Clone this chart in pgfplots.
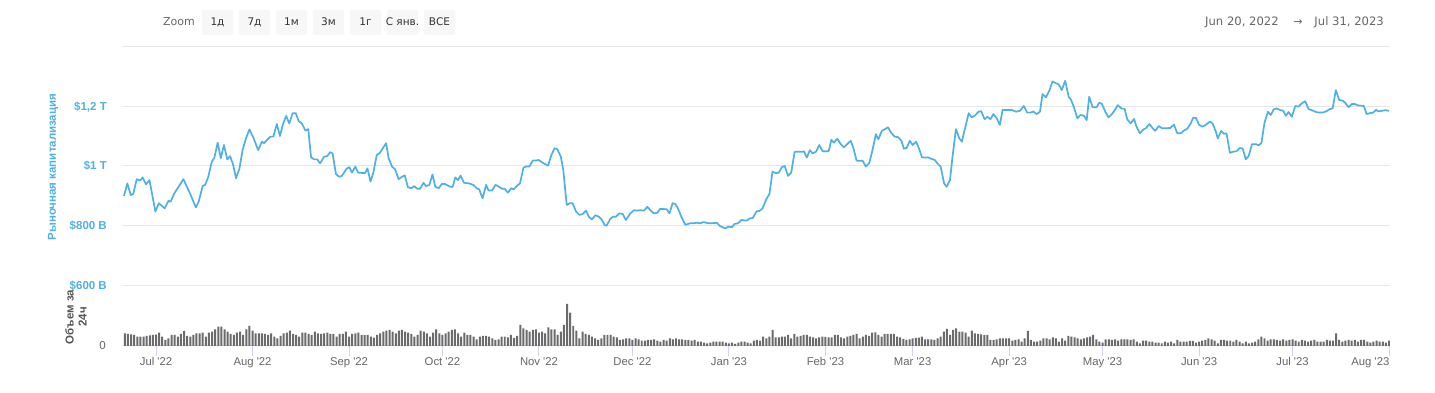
\documentclass[border=0pt]{standalone}
\usepackage{fontspec}
\setmainfont{Liberation Sans}
\newfontfamily\dvs{DejaVu Sans}
\usepackage{pgfplots}
\pgfplotsset{compat=1.18}
\definecolor{mcblue}{HTML}{4FB0E6}
\definecolor{volgray}{HTML}{6B6B6B}
\definecolor{gridc}{HTML}{E6E6E6}
\definecolor{tickc}{HTML}{CCD6EB}
\definecolor{labc}{HTML}{666666}
\definecolor{btnc}{HTML}{F7F7F7}
\definecolor{txtc}{HTML}{333333}
\definecolor{vlab}{HTML}{555555}
\begin{document}
\begin{tikzpicture}[x=1pt,y=1pt]
\fill[white] (0pt,0pt) rectangle (1435pt,393pt);
% ---------- market cap ----------
\begin{axis}[
  at={(123pt,107pt)}, anchor=south west, scale only axis,
  width=1267pt, height=240pt,
  xmin=-10.6, xmax=396.3, ymin=600, ymax=1400,
  axis line style={draw=none},
  xtick=\empty,
  ytick={600,800,1000,1200,1400},
  yticklabels={\$600 B,\$800 B,\$1 T,{\$1,2 T},{}},
  major tick length=0pt,
  ymajorgrids, grid style={gridc, line width=1pt},
  yticklabel style={font=\bfseries\fontsize{11.5}{13}\selectfont, text=mcblue, anchor=base east, inner sep=0pt, xshift=-16pt, yshift=-4pt},
  clip=false,
]
\addplot[mcblue, line width=1.7pt, line join=round] coordinates {
(-10.3,900)(-9.2,942)(-8.1,903)(-7.3,907)(-6.2,956)(-5.1,951)(-4.3,962)(-3.2,939)(-2.1,953)(-1.1,898)(-0.2,848)(0.9,876)(2.8,859)(4.0,884)(4.7,881)(5.9,909)(8.8,956)(10.9,909)(12.8,862)(13.7,881)(15.0,934)(15.8,937)(16.8,964)(17.9,1014)(18.7,1026)(19.8,1078)(20.8,1026)(21.8,1070)(22.9,1022)(23.8,1033)(24.8,1003)(25.7,959)(26.8,992)(27.8,1053)(28.9,1092)(30.0,1122)(31.3,1094)(32.8,1053)(34.0,1081)(34.7,1076)(36.1,1092)(36.8,1098)(37.7,1098)(38.8,1140)(39.8,1100)(40.7,1137)(41.8,1167)(42.8,1142)(43.9,1176)(44.9,1176)(45.8,1150)(46.8,1142)(48.0,1118)(48.9,1123)(49.8,1029)(50.8,1022)(51.8,1022)(52.7,1009)(54.0,1031)(55.0,1033)(55.9,1046)(56.7,1042)(57.8,973)(58.9,964)(59.7,967)(61.2,991)(62.1,996)(62.9,978)(64.0,998)(64.9,978)(67.1,976)(67.9,992)(68.9,948)(69.8,978)(70.9,1037)(71.9,1044)(73.9,1076)(74.7,1026)(75.8,998)(76.8,989)(77.9,956)(79.0,964)(79.9,969)(80.9,929)(82.0,926)(82.9,933)(83.9,924)(84.8,924)(85.9,944)(86.7,933)(87.8,937)(88.8,972)(89.7,931)(90.8,926)(91.8,940)(92.8,940)(94.4,931)(95.3,931)(96.1,962)(97.0,953)(97.8,968)(98.9,944)(100.6,942)(101.9,937)(103.0,926)(103.8,922)(104.9,892)(106.0,937)(106.8,918)(107.9,918)(109.0,937)(109.8,933)(111.1,924)(112.0,924)(113.0,911)(114.1,926)(114.8,922)(115.8,933)(116.9,942)(118.0,994)(118.8,998)(119.9,998)(121.0,1018)(122.0,1018)(122.9,1020)(124.0,1012)(125.0,1006)(125.9,1001)(127.0,1037)(128.0,1059)(128.9,1056)(130.0,1031)
(130.8,987)(131.9,870)(133.0,876)(133.8,876)(134.9,848)(136.0,837)(137.0,840)(138.1,851)(139.0,831)(140.0,822)(141.1,836)(142.2,831)(143.1,822)(144.1,803)(144.7,801)(145.8,822)(146.7,831)(147.7,831)(148.8,842)(149.9,840)(150.9,820)(152.2,840)(153.5,853)(154.6,851)(155.4,853)(156.7,851)(157.8,864)(158.9,851)(159.9,842)(161.0,844)(161.9,857)(164.0,856)(164.9,842)(165.9,876)(166.8,873)(167.6,859)(168.7,831)(170.0,804)(171.5,809)(172.6,809)(173.6,811)(174.7,809)(175.8,813)(177.5,809)(178.6,809)(180.1,811)(181.1,800)(182.8,792)(183.9,798)(185.0,796)(185.8,807)(186.9,809)(188.0,820)(189.7,818)(190.8,826)(191.6,826)(192.9,849)(193.8,850)(194.8,859)(195.9,887)(197.0,907)(198.0,981)(199.1,976)(200.0,978)(201.0,996)(201.9,1000)(203.0,967)(204.0,978)(205.1,1047)(206.4,1048)(207.5,1047)(208.1,1049)(209.0,1028)(210.0,1053)(210.9,1042)(212.0,1048)(213.0,1070)(214.1,1049)(216.0,1049)(216.9,1087)(217.7,1078)(218.8,1091)(219.9,1073)(220.9,1062)(222.0,1073)(223.1,1084)(223.9,1062)(225.0,1018)(226.1,1017)(226.9,1018)(228.0,998)(229.1,1011)(230.1,1053)(231.2,1106)(232.0,1089)(233.1,1117)(234.1,1123)(235.1,1129)(236.1,1111)(237.2,1098)(238.3,1096)(239.4,1084)(240.2,1057)(241.1,1061)(242.1,1084)(243.0,1070)(244.1,1081)(244.9,1062)(246.0,1029)(246.8,1028)(247.9,1029)(249.0,1024)(250.1,1020)(251.1,1007)(252.0,998)(253.1,942)(253.9,931)(255.0,953)(255.8,1031)(256.9,1123)(258.0,1092)(258.8,1081)(259.7,1120)(261.0,1176)(262.0,1162)(263.1,1169)(264.2,1181)(265.0,1183)(266.1,1156)(267.0,1164)(268.0,1156)(268.9,1173)(270.0,1159)(271.0,1137)
(271.9,1187)(273.2,1187)(274.8,1187)(276.2,1181)(277.5,1184)(278.7,1200)(279.8,1178)(280.9,1178)(281.7,1182)(282.8,1173)(283.9,1181)(284.7,1240)(285.8,1229)(286.9,1251)(287.9,1282)(289.0,1276)(289.9,1272)(290.9,1253)(292.0,1284)(293.1,1231)(293.9,1220)(294.8,1196)(295.9,1159)(296.9,1170)(298.0,1168)(298.9,1153)(299.7,1231)(300.8,1196)(302.1,1196)(302.9,1211)(303.8,1207)(304.9,1180)(305.9,1162)(307.0,1173)(308.1,1189)(308.9,1203)(310.0,1192)(311.1,1190)(311.9,1156)(313.0,1142)(314.1,1157)(314.9,1131)(316.0,1109)(317.1,1122)(317.9,1126)(319.0,1140)(320.1,1126)(320.9,1117)(322.0,1133)(323.1,1126)(324.6,1126)(325.8,1127)(326.9,1138)(328.0,1109)(329.1,1109)(330.1,1118)(331.2,1124)(332.3,1142)(333.1,1161)(334.0,1160)(335.0,1137)(336.1,1131)(337.2,1138)(338.5,1148)(339.3,1142)(340.4,1114)(341.0,1092)(342.1,1117)(343.0,1107)(343.8,1109)(344.9,1044)(346.0,1048)(347.0,1049)(348.1,1060)(349.0,1058)(350.0,1022)(350.9,1033)(352.0,1073)(353.2,1073)(354.1,1069)(355.0,1076)(356.0,1144)(357.1,1181)(358.0,1170)(359.0,1189)(359.9,1192)(360.9,1187)(362.0,1184)(362.9,1167)(363.7,1180)(364.8,1164)(365.9,1200)(366.9,1198)(368.0,1209)(369.1,1216)(370.2,1189)(371.0,1187)(372.1,1182)(372.9,1179)(374.0,1178)(375.1,1179)(376.1,1184)(377.0,1190)(377.9,1192)(378.9,1253)(380.0,1220)(381.1,1218)(381.9,1211)(383.0,1196)(384.1,1207)(384.9,1207)(386.0,1202)(387.1,1201)(387.9,1200)(388.8,1173)(389.8,1176)(390.9,1178)(391.8,1187)(392.6,1182)(393.7,1184)(394.8,1186)(396.0,1184)
};
\end{axis}
% ---------- volume ----------
\begin{axis}[
  at={(123pt,47pt)}, anchor=south west, scale only axis,
  width=1267pt, height=60pt,
  xmin=-10.6, xmax=396.3, ymin=0, ymax=300,
  axis x line=bottom, axis y line=none,
  x axis line style={-, tickc, line width=1pt},
  xtick={0,31,62,92,123,153,184,215,243,274,304,335,365},
  xticklabels={Jul \textquotesingle22,Aug \textquotesingle22,Sep \textquotesingle22,Oct \textquotesingle22,Nov \textquotesingle22,Dec \textquotesingle22,Jan \textquotesingle23,Feb \textquotesingle23,Mar \textquotesingle23,Apr \textquotesingle23,May \textquotesingle23,Jun \textquotesingle23,Jul \textquotesingle23},
  extra x ticks={396},
  extra x tick labels={Aug \textquotesingle23},
  extra x tick style={xticklabel style={anchor=base east, xshift=0.5pt}},
  tick align=outside, major tick length=10pt,
  xtick style={tickc, line width=1pt},
  xticklabel style={font=\fontsize{11.3}{13}\selectfont, text=labc, anchor=base, inner sep=0pt, yshift=-10pt},
  ytick=\empty,
  clip=true,
]
\addplot[ybar, bar width=0.64, fill=volgray, draw=none] coordinates {
(-11,72)(-10,63)(-9,60)(-8,58)(-7,55)(-6,47)(-5,47)(-4,47)(-3,50)(-2,53)(-1,55)(0,57)
(1,67)(2,47)(3,30)(4,38)(5,55)(6,55)(7,47)(8,60)(9,75)(10,50)
(11,47)(12,55)(13,63)(14,63)(15,67)(16,47)(17,67)(18,72)(19,83)(20,97)
(21,97)(22,83)(23,72)(24,60)(25,55)(26,67)(27,72)(28,55)(29,83)(30,100)
(31,77)(32,63)(33,63)(34,63)(35,60)(36,55)(37,63)(38,47)(39,38)(40,50)
(41,63)(42,67)(43,77)(44,60)(45,55)(46,47)(47,67)(48,67)(49,60)(50,55)
(51,72)(52,63)(53,60)(54,63)(55,67)(56,60)(57,60)(58,47)(59,60)(60,60)
(61,72)(62,47)(63,60)(64,63)(65,67)(66,55)(67,55)(68,55)(69,47)(70,42)
(71,55)(72,63)(73,72)(74,77)(75,80)(76,72)(77,63)(78,77)(79,80)(80,72)
(81,67)(82,60)(83,47)(84,55)(85,77)(86,72)(87,63)(88,47)(89,67)(90,83)
(91,63)(92,55)(93,63)(94,72)(95,80)(96,83)(97,63)(98,47)(99,67)(100,55)
(101,55)(102,47)(103,33)(104,47)(105,50)(106,50)(107,47)(108,38)(109,30)(110,33)
(111,47)(112,47)(113,43)(114,55)(115,40)(116,50)
(117,105)(118,88)(119,80)(120,72)(121,80)(122,83)(123,67)(124,72)
(125,63)(126,93)(127,83)(128,83)(129,55)(130,72)(131,105)(132,210)(133,167)
(134,100)(135,77)(136,38)(137,72)(138,60)(139,55)(140,47)(141,38)(142,30)(143,38)
(144,55)(145,55)(146,55)(147,47)(148,43)(149,30)(150,33)(151,38)(152,38)(153,30)
(154,38)(155,33)(156,27)(157,27)(158,30)(159,30)(160,33)(161,27)(162,22)(163,30)
(164,27)(165,38)(166,33)(167,38)(168,33)(169,33)(170,30)(171,30)(172,27)(173,30)
(174,22)(175,22)(176,17)(177,13)(178,17)(179,22)(180,22)(181,22)(182,22)(183,17)
(184,13)(185,17)(186,10)(187,17)(188,22)(189,22)(190,17)(191,13)(192,27)(193,30)
(194,27)(195,47)(196,38)(197,47)(198,80)(199,43)(200,43)(201,47)(202,47)(203,55)
(204,38)(205,60)(206,47)(207,50)(208,55)(209,55)(210,47)(211,43)(212,38)(213,43)
(214,47)(215,45)(216,43)(217,43)(218,55)(219,55)(220,43)(221,38)(222,47)(223,50)
(224,55)(225,60)(226,38)(227,47)(228,55)(229,50)(230,67)(231,68)(232,55)(233,47)
(234,60)(235,60)(236,60)(237,60)(238,47)(239,43)(240,35)(241,30)(242,33)(243,38)
(244,40)(245,42)(246,47)(247,33)(248,33)(249,33)(250,30)(251,38)(252,47)(253,72)
(254,85)(255,55)(256,80)(257,88)(258,72)(259,72)(260,67)(261,47)(262,77)(263,63)
(264,60)(265,58)(266,55)(267,55)(268,30)(269,30)(270,33)(271,38)(272,38)(273,38)
(274,38)(275,27)(276,30)(277,33)(278,22)(279,38)(280,75)(281,30)(282,22)(283,22)
(284,27)(285,38)(286,38)(287,33)(288,43)(289,38)(290,22)(291,38)(292,27)(293,50)
(294,47)(295,43)(296,38)(297,33)(298,38)(299,43)(300,47)(301,55)(302,33)(303,22)
(304,17)(305,33)(306,33)(307,30)(308,33)(309,27)(310,33)(311,33)(312,33)(313,30)
(314,33)(315,22)(316,13)(317,27)(318,27)(319,22)(320,22)(321,17)(322,17)(323,13)
(324,22)(325,17)(326,22)(327,13)(328,30)(329,22)(330,22)(331,22)(332,25)(333,25)
(334,17)(335,22)(336,27)(337,30)(338,38)(339,33)(340,27)(341,13)(342,30)(343,30)
(344,27)(345,27)(346,22)(347,30)(348,22)(349,13)(350,22)(351,13)(352,17)(353,22)
(354,33)(355,47)(356,38)(357,27)(358,33)(359,33)(360,30)(361,27)(362,33)(363,27)
(364,30)(365,33)(366,27)(367,22)(368,30)(369,27)(370,22)(371,27)(372,30)(373,22)
(374,22)(375,22)(376,30)(377,27)(378,27)(379,63)(380,30)(381,22)(382,27)(383,30)
(384,27)(385,30)(386,22)(387,30)(388,30)(389,22)(390,17)(391,22)(392,27)(393,22)
(394,22)(395,17)(396,27)
};
\end{axis}
% ---------- texts ----------
\node[rotate=90, font=\bfseries\fontsize{11.5}{13}\selectfont, text=mcblue] at (53,226) {Рыночная капитализация};
\node[rotate=90, align=center, font=\bfseries\fontsize{11.5}{13}\selectfont, text=vlab, inner sep=0pt] at (76,76) {Объем за\\24ч};
\node[anchor=base east, inner sep=0pt, font=\fontsize{11.5}{13}\selectfont, text=labc] at (106,43) {0};
% range selector
\node[anchor=base west, inner sep=0pt, font=\dvs\fontsize{11}{13}\selectfont, text=labc] at (163,367) {Zoom};
\foreach \xa/\lab in {202/1д,239/7д,276/1м,313/3м,350/1г,387/С янв.,424/ВСЕ}{
  \fill[btnc, rounded corners=2pt] (\xa,358) rectangle ++(31,25);
  \node[anchor=base, inner sep=0pt, font=\dvs\fontsize{10.5}{13}\selectfont, text=txtc] at (\xa+15.5,367) {\lab};
}
\node[anchor=base west, inner sep=0pt, font=\dvs\fontsize{11.6}{13}\selectfont, text=labc] at (1205,367) {Jun 20, 2022};
\node[anchor=base, inner sep=0pt, font=\dvs\fontsize{11}{13}\selectfont, text=labc] at (1298,367) {→};
\node[anchor=base east, inner sep=0pt, font=\dvs\fontsize{11.6}{13}\selectfont, text=labc] at (1384,367) {Jul 31, 2023};
\path (0pt,0pt) rectangle (1435pt,393pt);
\end{tikzpicture}
\end{document}
